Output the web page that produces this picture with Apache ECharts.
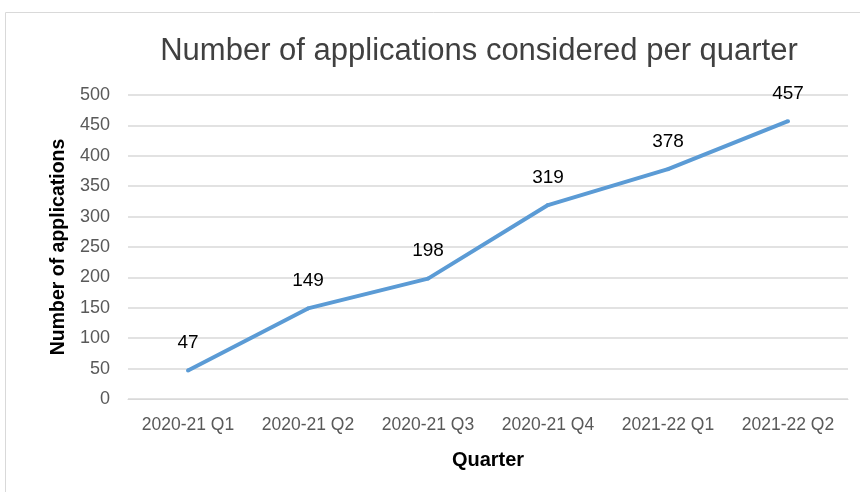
<!DOCTYPE html>
<html>
<head>
<meta charset="utf-8">
<script src="https://cdn.jsdelivr.net/npm/echarts@6/dist/echarts.min.js"></script>
<style>
html, body { margin: 0; padding: 0; background: #fff; }
#chart { width: 860px; height: 492px; }
</style>
</head>
<body>
<div id="chart"></div>
<script>
var quarters = ['2020-21 Q1', '2020-21 Q2', '2020-21 Q3', '2020-21 Q4', '2021-22 Q1', '2021-22 Q2'];
var applications = [47, 149, 198, 319, 378, 457];
var yTicks = { min: 0, max: 500, step: 50 };

var chart = echarts.init(document.getElementById('chart'));
var font = '"Liberation Sans", Arial, sans-serif';

var option = {
    animation: false,
    graphic: [{
        type: 'rect',
        shape: { x: 5.5, y: 12.5, width: 870, height: 500 },
        style: { fill: 'none', stroke: '#d9d9d9', lineWidth: 1 }
    }],
    title: {
        text: 'Number of applications considered per quarter',
        left: 474,
        top: 31,
        textAlign: 'center',
        textStyle: { color: '#404040', fontFamily: font, fontSize: 31, fontWeight: 'normal' }
    },
    grid: { left: 128, right: 12, top: 95, bottom: 93 },
    xAxis: {
        type: 'category',
        data: quarters,
        name: 'Quarter',
        nameLocation: 'middle',
        nameGap: 51,
        nameTextStyle: { color: '#000', fontFamily: font, fontSize: 20, fontWeight: 'bold' },
        axisLine: { show: true, lineStyle: { color: '#d9d9d9', width: 1 } },
        axisTick: { show: false },
        axisLabel: { color: '#595959', fontFamily: font, fontSize: 17.5, margin: 17, interval: 0 }
    },
    yAxis: {
        type: 'value',
        min: yTicks.min,
        max: yTicks.max,
        interval: yTicks.step,
        name: 'Number of applications',
        nameLocation: 'middle',
        nameGap: 52,
        nameTextStyle: { color: '#000', fontFamily: font, fontSize: 19.5, fontWeight: 'bold' },
        axisLine: { show: false },
        axisTick: { show: false },
        axisLabel: { color: '#595959', fontFamily: font, fontSize: 18, margin: 18 },
        splitLine: { lineStyle: { color: '#d9d9d9', width: 1.5 } }
    },
    series: [{
        type: 'line',
        data: applications,
        symbol: 'circle',
        symbolSize: 4,
        showSymbol: true,
        itemStyle: { color: '#5b9bd5' },
        lineStyle: { color: '#5b9bd5', width: 4 },
        label: {
            show: true,
            position: 'top',
            distance: 16,
            color: '#000',
            fontFamily: font,
            fontSize: 19
        }
    }]
};
chart.setOption(option);
</script>
</body>
</html>
